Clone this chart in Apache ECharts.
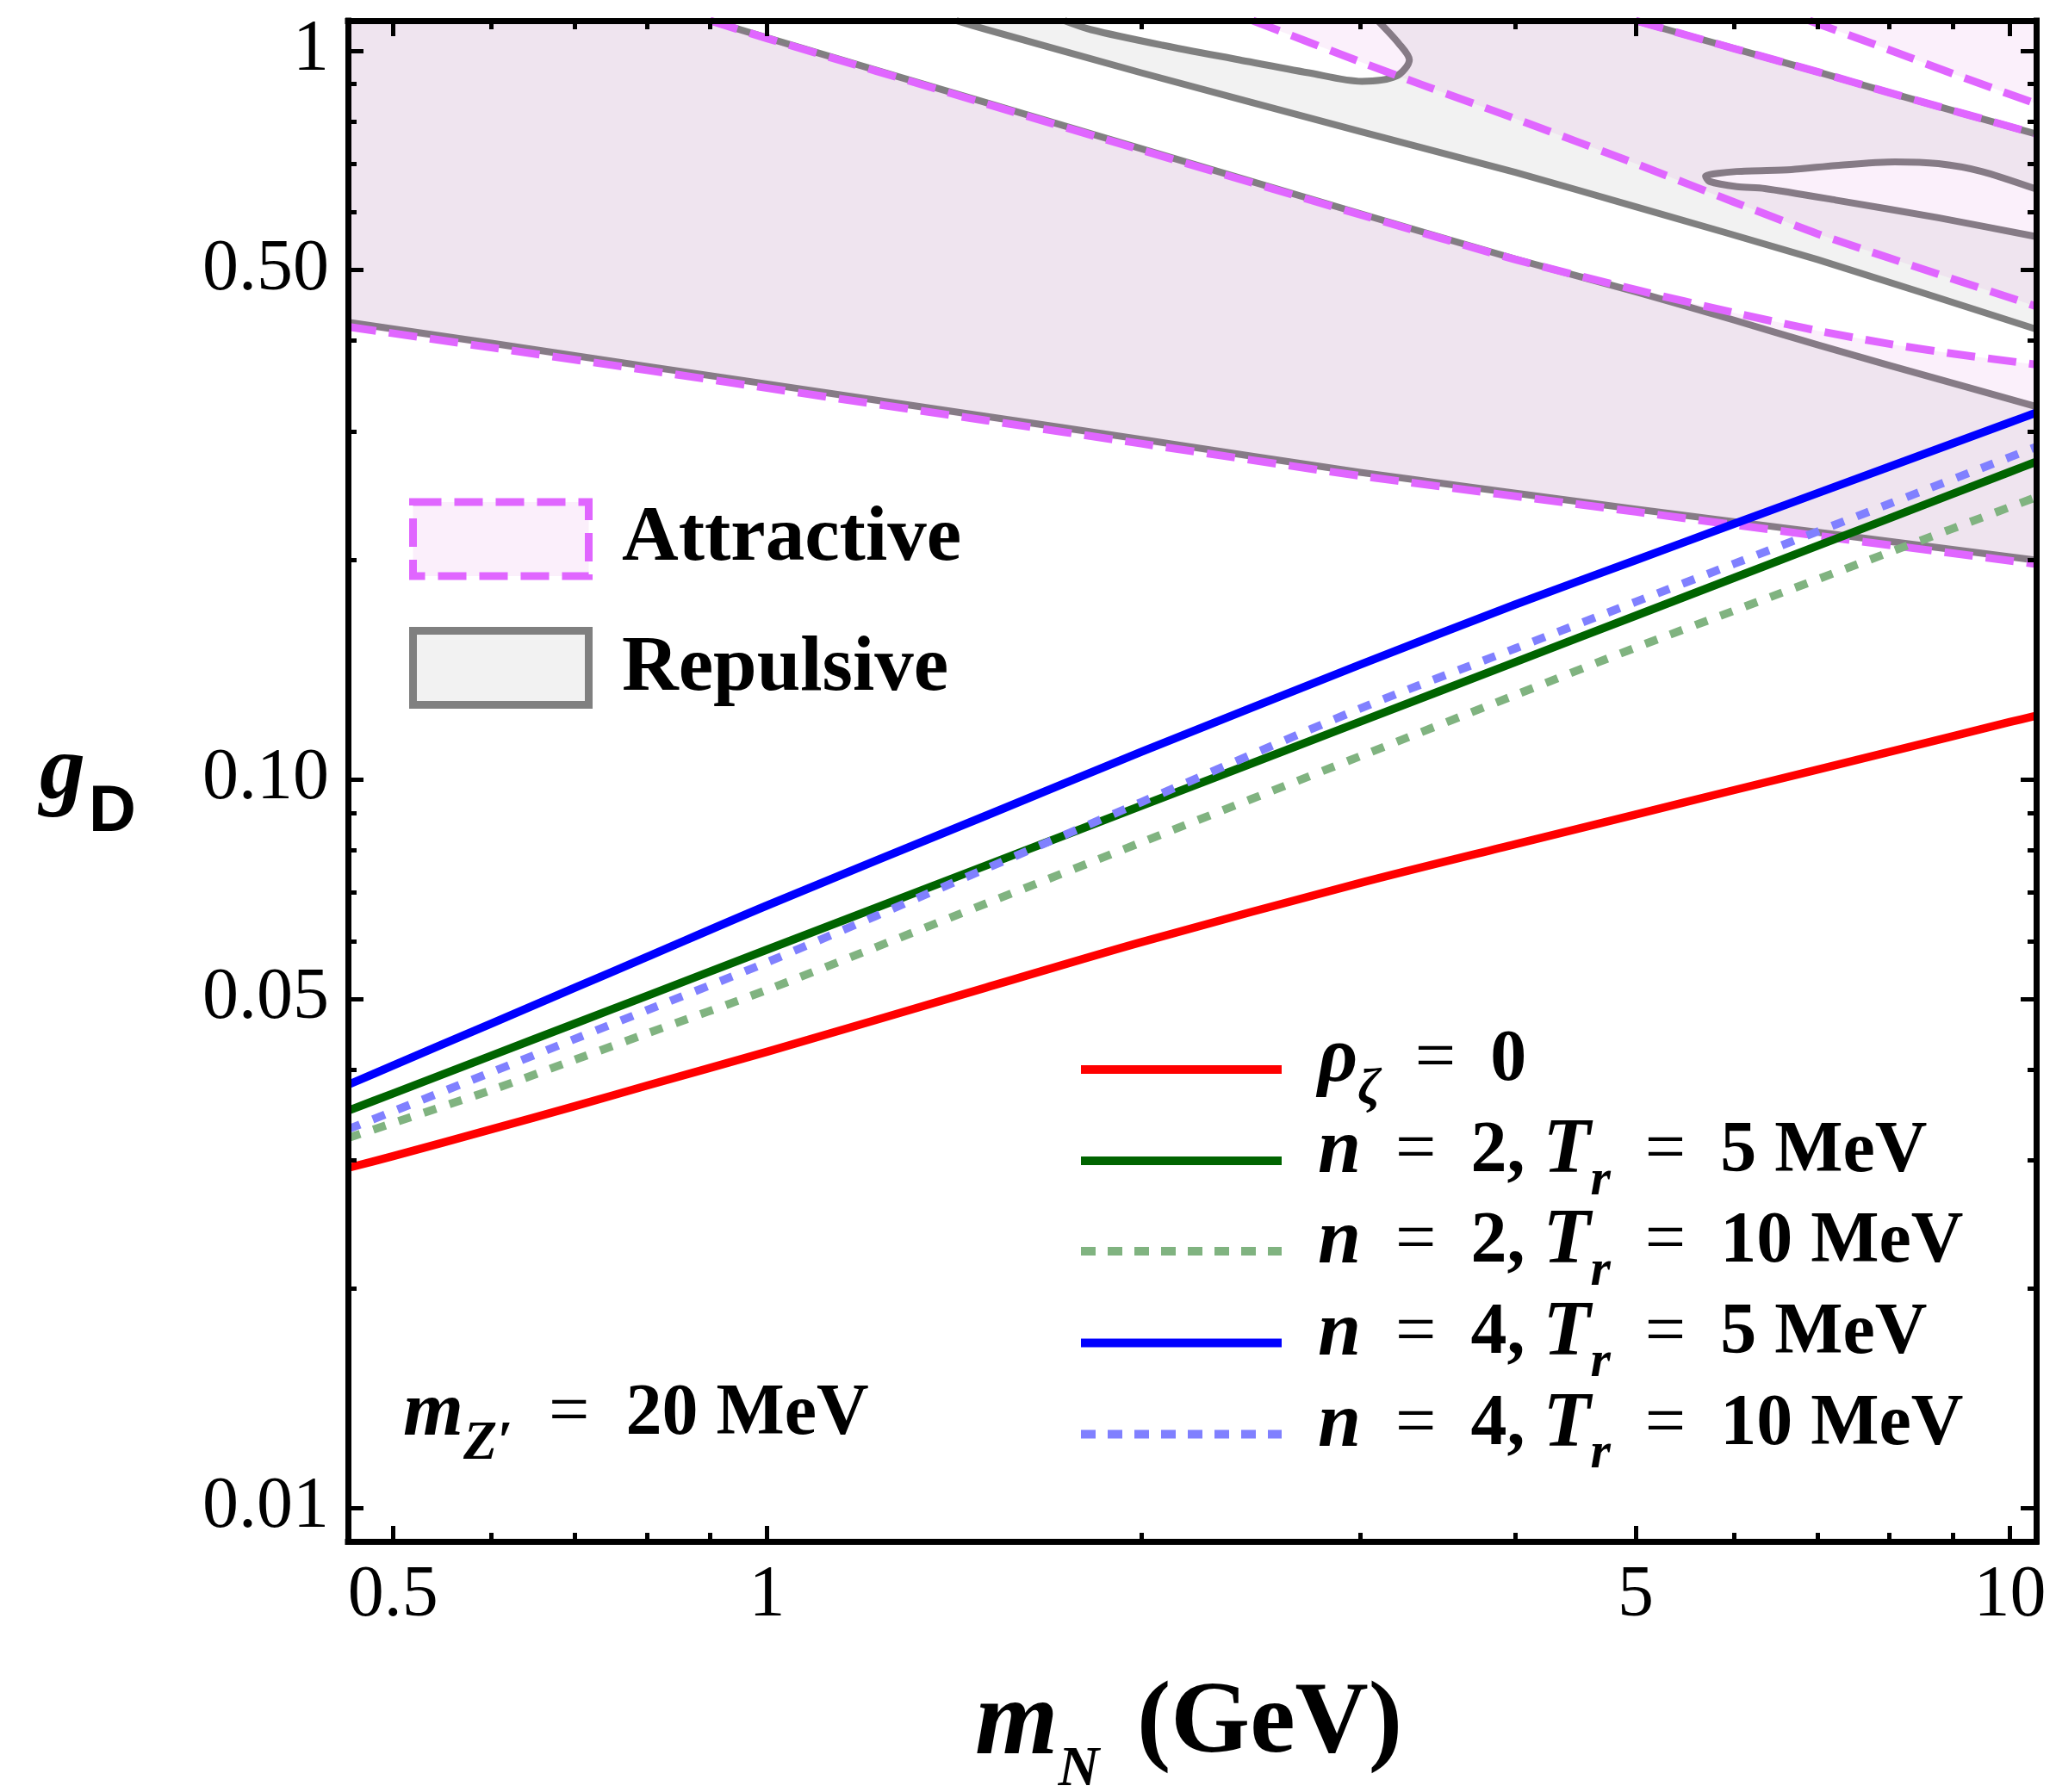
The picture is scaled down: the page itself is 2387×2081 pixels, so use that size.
<!DOCTYPE html>
<html>
<head>
<meta charset="utf-8">
<script src="https://cdn.jsdelivr.net/npm/echarts@6/dist/echarts.min.js"></script>
<style>
html,body{margin:0;padding:0;background:#fff;}
#chart{width:2387px;height:2081px;}
</style>
</head>
<body>
<div id="chart"></div>
<script>
// ---------------- data ----------------
const xRange = [0.46, 10.5];      // m_N (GeV), log scale
const yRange = [0.009, 1.1];      // g_D, log scale

const xMajorTicks = [0.5, 1, 5, 10];
const xTickLabels = ['0.5', '1', '5', '10'];
const xMinorTicks = [0.6, 0.7, 0.8, 0.9, 2, 3, 4, 6, 7, 8, 9];
const yMajorTicks = [0.01, 0.05, 0.1, 0.5, 1];
const yTickLabels = ['0.01', '0.05', '0.10', '0.50', '1'];
const yMinorTicks = [0.02, 0.03, 0.04, 0.06, 0.07, 0.08, 0.09, 0.2, 0.3, 0.4, 0.6, 0.7, 0.8, 0.9];

// curve samples
const massGrid = [0.46, 0.5, 0.6, 0.7, 0.8, 1, 1.5, 2, 3, 4, 5, 6, 8, 10, 10.5];
const gRhoZero = [0.0293, 0.0304, 0.0331, 0.0356, 0.0380, 0.0423, 0.0518, 0.0598, 0.0721, 0.0815, 0.0895, 0.0967, 0.1091, 0.1199, 0.1223];
const gN2T5    = [0.0351, 0.03707, 0.04178, 0.04622, 0.05045, 0.0584, 0.07617, 0.0920, 0.1200, 0.1449, 0.1678, 0.1891, 0.2283, 0.2643, 0.2729];
const gN2T10   = [0.0322, 0.03377, 0.03747, 0.04123, 0.04479, 0.05144, 0.06756, 0.08196, 0.1076, 0.1306, 0.1517, 0.1705, 0.2050, 0.2365, 0.2440];
const gN4T5    = [0.0381, 0.04049, 0.04625, 0.05175, 0.05705, 0.06715, 0.08918, 0.1091, 0.1437, 0.1738, 0.2000, 0.2243, 0.2687, 0.3091, 0.3187];
const gN4T10   = [0.0331, 0.03503, 0.03965, 0.04403, 0.04821, 0.05612, 0.07544, 0.09307, 0.1251, 0.1513, 0.1753, 0.1977, 0.2390, 0.2769, 0.2860];

const curveNames = ['\u03c1\u03b6 = 0', 'n = 2, Tr = 5 MeV', 'n = 2, Tr = 10 MeV', 'n = 4, Tr = 5 MeV', 'n = 4, Tr = 10 MeV'];

// region boundaries, [m_N, g_D]
const band1LowerRep = [[0.46,0.424],[0.6,0.397],[0.8,0.369],[1,0.349],[1.5,0.315],[2,0.293],[3,0.264],[5,0.235],[7,0.2185],[10.5,0.200]];
const band1LowerAtt = [[0.46,0.418],[0.6,0.3915],[0.8,0.3645],[1,0.3445],[1.5,0.311],[2,0.289],[3,0.261],[5,0.233],[7,0.216],[10.5,0.1975]];
const band1UpperRep = [[0.9,1.1],[1,1.042],[1.5,0.849],[2,0.734],[3,0.598],[4,0.518],[5,0.467],[6,0.427],[7,0.395],[8,0.370],[10.5,0.325]];
const band1UpperAtt = [[0.9,1.1],[1,1.040],[1.5,0.846],[2,0.731],[3,0.596],[4,0.517],[5,0.470],[6,0.437],[7,0.413],[8,0.396],[9,0.384],[10.5,0.371]];
const band2LowerRep = [[1.42,1.1],[1.5,1.070],[2,0.933],[3,0.775],[4,0.681],[5,0.611],[7,0.517],[10.5,0.415]];
const band2UpperRepLoop = [[1.735,1.1],[1.823,1.069],[2.08,1.018],[2.398,0.972],[2.727,0.933],[3.01,0.908],[3.208,0.923],[3.287,0.972],[3.224,1.023],[3.10,1.1]];
const band2LowerAtt = [[2.46,1.1],[3,0.966],[3.36,0.899],[4,0.807],[5,0.700],[6,0.620],[7,0.561],[8.5,0.502],[10.5,0.446]];
const band2Upper    = [[5.0,1.1],[6,1.007],[7,0.936],[8,0.876],[10.5,0.769]];
const band3LowerAtt = [[6.9,1.1],[8,1.003],[9,0.930],[10.5,0.846]];
const repGapTongue  = [[10.5,0.646],[9.49,0.683],[8.76,0.700],[8.08,0.704],[7.24,0.696],[6.67,0.687],[6.03,0.683],[5.69,0.673],[5.73,0.662],[6.03,0.651],[6.35,0.647],[7.24,0.624],[8.76,0.590],[10.5,0.556]];

// ---------------- styles ----------------
const SERIF = 'Liberation Serif';
const SANS = 'Liberation Sans';
const C_ATT = '#E066FF';
const C_REP = '#808080';
const FILL_ATT = 'rgba(200,60,210,0.08)';
const FILL_REP = 'rgba(0,0,0,0.05)';
const curveColors = ['#FF0000', '#006400', '#80B380', '#0000FF', '#8080FF'];
const curveDash = ['solid', 'solid', [15, 16], 'solid', [15, 16]];

const rev = a => a.slice().reverse();
const zip = (xs, ys) => xs.map((x, i) => [x, ys[i]]);

function tickFormatter(ticks, labels) {
  return function (v) {
    for (let i = 0; i < ticks.length; i++) {
      if (Math.abs(v - ticks[i]) <= ticks[i] * 1e-6) return labels[i];
    }
    return '';
  };
}

function makeAxis(dim, position, ticks, len, showLine, labels) {
  const range = dim === 'x' ? xRange : yRange;
  return {
    type: 'log', logBase: 10, min: range[0], max: range[1], position: position,
    z: 10,
    axisLine: {show: showLine, lineStyle: {color: '#000', width: 7, cap: 'square'}},
    axisTick: {show: true, inside: true, length: len, customValues: ticks, lineStyle: {color: '#000', width: 5}},
    axisLabel: labels ? {
      show: true, customValues: ticks, formatter: tickFormatter(ticks, labels),
      fontFamily: SERIF, fontSize: 84, color: '#000', margin: 22, hideOverlap: false
    } : {show: false},
    splitLine: {show: false},
    minorTick: {show: false}
  };
}

function polySeries(name, pts, fill, z) {
  return {
    type: 'custom', name: name, coordinateSystem: 'cartesian2d', xAxisIndex: 0, yAxisIndex: 0,
    clip: true, silent: true, z: z, data: [[1, 0.1]],
    renderItem: function (params, api) {
      return {type: 'polygon', shape: {points: pts.map(p => api.coord(p))}, style: {fill: fill}};
    }
  };
}

function lineSeries(name, pts, color, width, dash, z, smooth) {
  return {
    type: 'line', name: name, data: pts, xAxisIndex: 0, yAxisIndex: 0,
    showSymbol: false, symbol: 'none', smooth: smooth, z: z, silent: true,
    lineStyle: {color: color, width: width, type: dash, cap: 'butt', join: 'round'}
  };
}

// region polygons built from the boundary arrays
const regionRep1 = band1LowerRep.concat(rev(band1UpperRep), [[xRange[0], yRange[1]]]);
const regionAtt1 = band1LowerAtt.concat(rev(band1UpperAtt), [[xRange[0], yRange[1]]]);
const regionRep2 = band2LowerRep.concat(rev(repGapTongue), rev(band2Upper), rev(band2UpperRepLoop));
const regionAtt2 = band2LowerAtt.concat(rev(band2Upper));
const regionAtt3 = band3LowerAtt.concat([[xRange[1], yRange[1]]]);

const GW = 8, DW = 9, CW = 9.5;
const series = [
  polySeries('rep1', regionRep1, FILL_REP, 1),
  polySeries('rep2', regionRep2, FILL_REP, 1),
  lineSeries('rep-b1-low', band1LowerRep, C_REP, GW, 'solid', 2, 0.2),
  lineSeries('rep-b1-up', band1UpperRep, C_REP, GW, 'solid', 2, 0.2),
  lineSeries('rep-b2-low', band2LowerRep, C_REP, GW, 'solid', 2, 0.2),
  lineSeries('rep-b2-up', band2UpperRepLoop, C_REP, GW, 'solid', 2, 0.3),
  lineSeries('rep-b2-top', band2Upper, C_REP, GW, 'solid', 2, 0.2),
  lineSeries('rep-gap', repGapTongue, C_REP, GW, 'solid', 2, 0.25),
  polySeries('att1', regionAtt1, FILL_ATT, 3),
  polySeries('att2', regionAtt2, FILL_ATT, 3),
  polySeries('att3', regionAtt3, FILL_ATT, 3),
  lineSeries('att-b1-low', band1LowerAtt, C_ATT, DW, [33, 15], 4, 0.2),
  lineSeries('att-b1-up', band1UpperAtt, C_ATT, DW, [33, 15], 4, 0.2),
  lineSeries('att-b2-low', band2LowerAtt, C_ATT, DW, [33, 15], 4, 0.2),
  lineSeries('att-b2-up', band2Upper, C_ATT, DW, [33, 15], 4, 0.2),
  lineSeries('att-b3-low', band3LowerAtt, C_ATT, DW, [33, 15], 4, 0.2)
];
const curveData = [gRhoZero, gN2T5, gN2T10, gN4T5, gN4T10];
curveData.forEach((ys, i) => {
  series.push(lineSeries(curveNames[i], zip(massGrid, ys), curveColors[i], CW, curveDash[i], 5, 0.3));
});

// ---------------- text / legends (graphic) ----------------
const mathRich = (size, rmSize, subSize, subPad, opPad) => ({
  mi: {fontFamily: SERIF, fontStyle: 'italic', fontWeight: 'bold', fontSize: size, fill: '#000', verticalAlign: 'middle'},
  rm: {fontFamily: SERIF, fontWeight: 'bold', fontSize: rmSize, fill: '#000', verticalAlign: 'middle'},
  op: {fontFamily: SERIF, fontWeight: 'normal', fontSize: rmSize, fill: '#000', verticalAlign: 'middle', padding: [0, opPad, 0, opPad]},
  sub: {fontFamily: SERIF, fontStyle: 'italic', fontWeight: 'bold', fontSize: subSize, fill: '#000', verticalAlign: 'middle', padding: [subPad, 0, 0, 0]}
});

const legendTexts = [
  '{mi|\u03c1}{sub|\u03b6}{op|=}{rm|0}',
  '{mi|n}{op|=}{rm|2, }{mi|T}{sub|r}{op|=}{rm|5 MeV}',
  '{mi|n}{op|=}{rm|2, }{mi|T}{sub|r}{op|=}{rm|10 MeV}',
  '{mi|n}{op|=}{rm|4, }{mi|T}{sub|r}{op|=}{rm|5 MeV}',
  '{mi|n}{op|=}{rm|4, }{mi|T}{sub|r}{op|=}{rm|10 MeV}'
];
const legendRowY = [1242, 1348, 1453, 1559.5, 1665.5];

const graphics = [];
// region legend
graphics.push({type: 'rect', z: 20, shape: {x: 479.5, y: 583, width: 204, height: 86},
  style: {fill: '#FBEFFB', stroke: C_ATT, lineWidth: 9, lineDash: [33, 15]}});
graphics.push({type: 'rect', z: 20, shape: {x: 479.5, y: 732.5, width: 204, height: 86},
  style: {fill: '#F2F2F2', stroke: C_REP, lineWidth: 9}});
graphics.push({type: 'text', z: 20, x: 722, y: 626,
  style: {text: 'Attractive', fontFamily: SERIF, fontWeight: 'bold', fontSize: 91, fill: '#000', align: 'left', verticalAlign: 'middle'}});
graphics.push({type: 'text', z: 20, x: 722, y: 777,
  style: {text: 'Repulsive', fontFamily: SERIF, fontWeight: 'bold', fontSize: 91, fill: '#000', align: 'left', verticalAlign: 'middle'}});
// curve legend
legendRowY.forEach((y, i) => {
  graphics.push({type: 'line', z: 20, shape: {x1: 1255, y1: y, x2: 1488, y2: y},
    style: {stroke: curveColors[i], lineWidth: 10, lineDash: curveDash[i] === 'solid' ? null : [17, 14]}});
  graphics.push({type: 'text', z: 20, x: 1530, y: y - 10,
    style: {text: legendTexts[i], rich: mathRich(90, 84, 60, 66, 40), align: 'left', verticalAlign: 'middle'}});
});
// annotation
graphics.push({type: 'text', z: 20, x: 468, y: 1643,
  style: {text: '{mi|m}{sub|Z\u2032}{op|=}{rm|20 MeV}', rich: mathRich(90, 84, 64, 69, 42), align: 'left', verticalAlign: 'middle'}});
// axis titles
const xTitleRich = mathRich(124, 118, 66, 104, 0);
xTitleRich.rm.padding = [0, 0, 0, 44];
graphics.push({type: 'text', z: 20, x: 1380, y: 2004,
  style: {text: '{mi|m}{sub|N}{rm|(GeV)}', rich: xTitleRich, align: 'center', verticalAlign: 'middle'}});
graphics.push({type: 'text', z: 20, x: 46, y: 899,
  style: {text: '{g|g}{d|D}', rich: {
    g: {fontFamily: SERIF, fontStyle: 'italic', fontWeight: 'bold', fontSize: 106, fill: '#000', verticalAlign: 'middle'},
    d: {fontFamily: SANS, fontWeight: 'bold', fontSize: 76, fill: '#000', verticalAlign: 'middle', padding: [90, 0, 0, 4]}
  }, align: 'left', verticalAlign: 'middle'}});

// ---------------- chart ----------------
const chart = echarts.init(document.getElementById('chart'), null, {renderer: 'canvas'});
chart.setOption({
  animation: false,
  backgroundColor: '#fff',
  grid: {left: 404, right: 23, top: 24, bottom: 291, containLabel: false},
  xAxis: [
    makeAxis('x', 'bottom', xMajorTicks, 18, true, xTickLabels),
    makeAxis('x', 'bottom', xMinorTicks, 10, false, null),
    makeAxis('x', 'top', xMajorTicks, 18, true, null),
    makeAxis('x', 'top', xMinorTicks, 10, false, null)
  ],
  yAxis: [
    makeAxis('y', 'left', yMajorTicks, 18, true, yTickLabels),
    makeAxis('y', 'left', yMinorTicks, 10, false, null),
    makeAxis('y', 'right', yMajorTicks, 18, true, null),
    makeAxis('y', 'right', yMinorTicks, 10, false, null)
  ],
  series: series,
  graphic: {elements: graphics}
});
</script>
</body>
</html>
